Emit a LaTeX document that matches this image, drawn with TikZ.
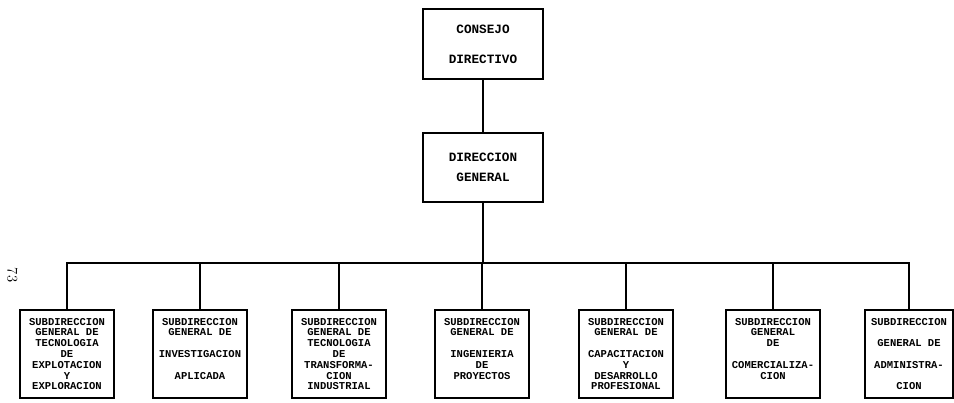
\documentclass[tikz,border=0pt]{standalone}
\usepackage{fontspec}
\newfontfamily\boxfont{Liberation Mono}
\tikzset{
  headbox/.style={draw, line width=1.3pt, align=center, inner sep=0pt,
    minimum width=90pt, minimum height=52pt,
    font={\boxfont\bfseries\fontsize{9.5pt}{11pt}\selectfont}},
  subbox/.style={draw, line width=1.3pt, align=center, inner sep=0pt,
    minimum width=70.5pt, minimum height=66pt,
    font={\boxfont\bfseries\fontsize{7.9pt}{8.1pt}\selectfont}},
  link/.style={line width=1pt}
}
\begin{document}
\begin{tikzpicture}[x=0.75pt,y=-0.75pt]
  \useasboundingbox (0,0) rectangle (954,403);
  \node[rotate=-90, font=\fontsize{11pt}{11pt}\selectfont] (page) at (12.5,275) {73};
  \node[headbox] (cd) at (483,44) {CONSEJO\\[11.5pt]DIRECTIVO};
  \node[headbox] (dg) at (483,167.5) {DIRECCION\\[4pt]GENERAL};
  \node[subbox] (s1) at (67,354) {SUBDIRECCION\\GENERAL DE\\TECNOLOGIA\\DE\\EXPLOTACION\\Y\\EXPLORACION};
  \node[subbox] (s2) at (200,354) {SUBDIRECCION\\GENERAL DE\\~\\INVESTIGACION\\~\\APLICADA\\~};
  \node[subbox] (s3) at (339,354) {SUBDIRECCION\\GENERAL DE\\TECNOLOGIA\\DE\\TRANSFORMA-\\CION\\INDUSTRIAL};
  \node[subbox] (s4) at (482,354) {SUBDIRECCION\\GENERAL DE\\~\\INGENIERIA\\DE\\PROYECTOS\\~};
  \node[subbox] (s5) at (626,354) {SUBDIRECCION\\GENERAL DE\\~\\CAPACITACION\\Y\\DESARROLLO\\PROFESIONAL};
  \node[subbox] (s6) at (773,354) {SUBDIRECCION\\GENERAL\\DE\\~\\COMERCIALIZA-\\CION\\~};
  \node[subbox, minimum width=66pt] (s7) at (909,354) {SUBDIRECCION\\~\\GENERAL DE\\~\\ADMINISTRA-\\~\\CION};
  \coordinate (bus) at (483,264);
  \draw[link] (cd) -- (dg);
  \draw[link] (dg) -- (bus);
  \draw[link] (s1.north) -- ++(0,-46) -| (s7.north);
  \foreach \s in {s2,s3,s4,s5,s6}
    \draw[link] (\s.north) -- (\s.north |- bus);
\end{tikzpicture}
\end{document}
